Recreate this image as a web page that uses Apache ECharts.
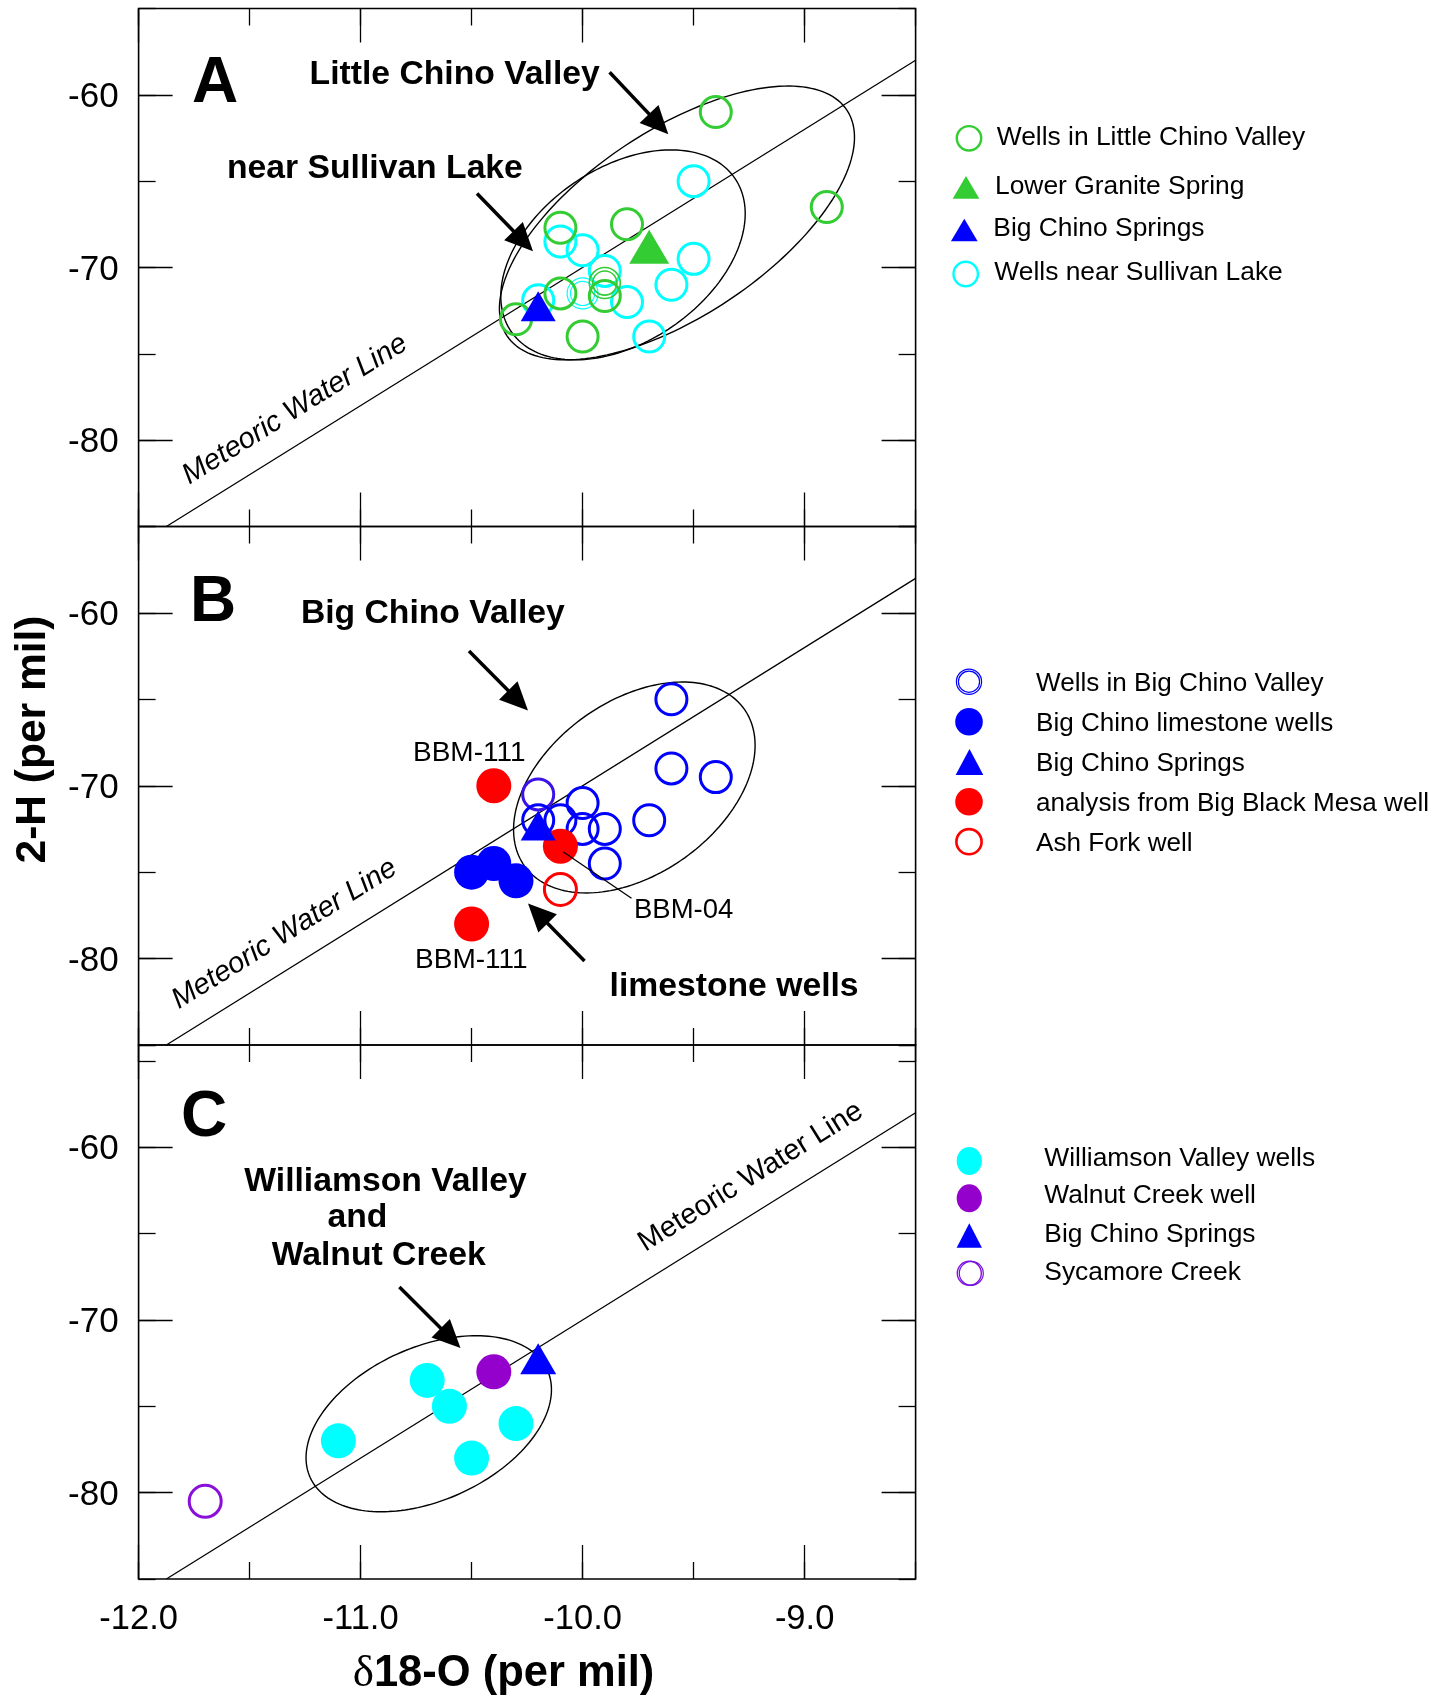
<!DOCTYPE html>
<html><head><meta charset="utf-8">
<script src="https://cdn.jsdelivr.net/npm/echarts@6/dist/echarts.min.js"></script>
<style>html,body{margin:0;padding:0;background:#fff}#c{width:1448px;height:1697px}</style>
</head><body><div id="c"></div>
<script>
// ---------------- data ----------------
const xTickLabels = [-12, -11, -10, -9];
const yTickLabels = [-80, -70, -60];
const meteoricWaterLine = [[-11.875, -85], [-8.5, -58]];

// Panel A
const wellsLittleChino = [[-9.4,-61.0],[-8.9,-66.5],[-9.8,-67.5],[-10.1,-67.7],[-10.1,-71.5],[-9.9,-70.9],[-9.9,-71.65],[-10.3,-73.0],[-10.0,-74.0]];
const wellsSullivanLake = [[-9.5,-65.0],[-10.1,-68.5],[-10.0,-69.0],[-9.5,-69.5],[-9.9,-70.2],[-9.6,-71.0],[-9.8,-72.0],[-10.0,-71.5],[-10.2,-71.9],[-9.7,-74.0]];
const lowerGraniteSpring = [[-9.7,-68.8]];
const bigChinoSpringsA = [[-10.2,-72.25]];
// Panel B
const wellsBigChino = [[-10.2,-70.5],[-10.0,-71.0],[-10.2,-72.0],[-10.1,-72.0],[-10.0,-72.5],[-9.9,-72.5],[-9.7,-72.0],[-9.9,-74.5],[-9.6,-65.0],[-9.6,-69.0],[-9.4,-69.5]];
const limestoneWells = [[-10.5,-75.0],[-10.4,-74.5],[-10.3,-75.5]];
const bigChinoSpringsB = [[-10.2,-72.3]];
const bigBlackMesa = [[-10.4,-70.0],[-10.1,-73.5],[-10.5,-78.0]];
const ashForkWell = [[-10.1,-76.0]];
// Panel C
const williamsonWells = [[-10.7,-73.5],[-10.6,-75.0],[-11.1,-77.0],[-10.3,-76.0],[-10.5,-78.0]];
const walnutCreekWell = [[-10.4,-73.0]];
const bigChinoSpringsC = [[-10.2,-72.25]];
const sycamoreCreek = [[-11.7,-80.5]];

// group ellipses (annotation outlines): centre in data units, semi-axes in px, tilt in degrees
const ellipsesA = [[-9.575,-67.42,204,93,33.6],[-9.818,-69.27,135.6,87,34.4]];
const ellipsesB = [[-9.767,-70.1,135,86.5,35.6]];
const ellipsesC = [[-10.693,-76.01,130.2,76.5,24.4]];

// ---------------- layout ----------------
const FONT = '"Liberation Sans", Arial, sans-serif';
const grids = [
  {left:138.6, top:8.5, width:777, height:518},
  {left:138.6, top:526.5, width:777, height:518.5},
  {left:138.6, top:1045, width:777, height:534}
];
const yMax = [-55, -55, -54.08];
const GREEN = '#33cc33', CYAN = '#00ffff', BLUE = '#0000ff', RED = '#ff0000', PURPLE = '#9400cc';

const tickStyle = {color:'#000', width:1.3};
function xAxes(g, labels) {
  const mk = (pos, major, lab) => ({
    type:'value', gridIndex:g, min:-12, max:-8.5, interval:0.5, position:pos,
    splitLine:{show:false}, axisLine:{show:false, onZero:false},
    axisTick: major ? {show:true, inside:true, length:34, lineStyle:tickStyle, customValues:xTickLabels}
                    : {show:true, inside:true, length:17, lineStyle:tickStyle},
    axisLabel: lab ? {show:true, customValues:xTickLabels, formatter:v => Number(v).toFixed(1), margin:23,
                      color:'#000', fontSize:34.5, fontFamily:FONT} : {show:false}
  });
  return [mk('bottom',false,false), mk('bottom',true,labels), mk('top',false,false), mk('top',true,false)];
}
function yAxes(g) {
  const mk = (pos, major, lab) => ({
    type:'value', gridIndex:g, min:-85, max:yMax[g], interval:5, position:pos,
    splitLine:{show:false}, axisLine:{show:false, onZero:false},
    axisTick: major ? {show:true, inside:true, length:34, lineStyle:tickStyle, customValues:yTickLabels}
                    : {show:true, inside:true, length:17, lineStyle:tickStyle},
    axisLabel: lab ? {show:true, customValues:yTickLabels, margin:20, verticalAlign:'top', lineHeight:5,
                      color:'#000', fontSize:35, fontFamily:FONT} : {show:false}
  });
  return [mk('left',false,false), mk('left',true,true), mk('right',false,false), mk('right',true,false)];
}

const doubleRing = 'path://M0,16A16,16 0 1,1 32,16A16,16 0 1,1 0,16ZM3.5,16A12.5,12.5 0 1,1 28.5,16A12.5,12.5 0 1,1 3.5,16Z';

function scat(g, name, data, opt) {
  return Object.assign({
    type:'scatter', name, xAxisIndex:4*g, yAxisIndex:4*g, data, silent:true,
    emphasis:{disabled:true}, animation:false, z:3
  }, opt);
}
function ring(color, size) { return {symbol:'circle', symbolSize:size||31, itemStyle:{color:'rgba(0,0,0,0)', borderColor:color, borderWidth:3, opacity:1}}; }
function dot(color, size) { return {symbol:'circle', symbolSize:size||35, itemStyle:{color:color, opacity:1}}; }
function tri(color, w, h) { return {symbol:'triangle', symbolSize:[w,h], itemStyle:{color:color, opacity:1}, z:5}; }

function ellipseSeries(g, data) {
  return {
    type:'custom', xAxisIndex:4*g, yAxisIndex:4*g, data, silent:true, animation:false, z:2,
    renderItem: (params, api) => {
      const c = api.coord([api.value(0), api.value(1)]);
      const a = api.value(2), b = api.value(3), th = api.value(4) * Math.PI / 180;
      const ux = Math.cos(th), uy = -Math.sin(th), vx = Math.sin(th), vy = Math.cos(th);
      const pts = [];
      for (let i = 0; i < 180; i++) {
        const t = i / 180 * Math.PI * 2;
        pts.push([c[0] + a*Math.cos(t)*ux + b*Math.sin(t)*vx, c[1] + a*Math.cos(t)*uy + b*Math.sin(t)*vy]);
      }
      return {type:'polygon', shape:{points:pts}, style:{fill:'none', stroke:'#000', lineWidth:1.4}};
    }
  };
}
function mwl(g) {
  return {type:'line', xAxisIndex:4*g, yAxisIndex:4*g, data:meteoricWaterLine, symbol:'none', silent:true,
          lineStyle:{color:'#000', width:1.3}, animation:false, z:1};
}

// Double-ring markers for overlapped points
const wlcData = wellsLittleChino.map((p,i) => i===5 ? {value:p, symbol:doubleRing, itemStyle:{borderWidth:1.6}} : p);
const wslData = wellsSullivanLake.map((p,i) => i===7 ? {value:p, symbol:doubleRing, itemStyle:{borderWidth:1.2}} : p);
const wbcData = wellsBigChino.map((p,i) => i===0 ? {value:p, itemStyle:{borderColor:'#3d12e6'}} : p);

const series = [
  // A
  mwl(0), ellipseSeries(0, ellipsesA),
  scat(0,'Wells near Sullivan Lake', wslData, ring(CYAN)),
  scat(0,'Wells in Little Chino Valley', wlcData, ring(GREEN)),
  scat(0,'Lower Granite Spring', lowerGraniteSpring, tri(GREEN,40,34)),
  scat(0,'Big Chino Springs', bigChinoSpringsA, tri(BLUE,35,30)),
  // B
  mwl(1), ellipseSeries(1, ellipsesB),
  scat(1,'Wells in Big Chino Valley', wbcData, ring(BLUE)),
  scat(1,'Big Chino Springs', bigChinoSpringsB, tri(BLUE,35,30)),
  scat(1,'Big Chino limestone wells', limestoneWells, dot(BLUE,35)),
  scat(1,'analysis from Big Black Mesa well', bigBlackMesa, dot(RED,35)),
  scat(1,'Ash Fork well', ashForkWell, ring(RED,32)),
  // C
  mwl(2), ellipseSeries(2, ellipsesC),
  scat(2,'Williamson Valley wells', williamsonWells, dot(CYAN,35)),
  scat(2,'Walnut Creek well', walnutCreekWell, dot(PURPLE,35)),
  scat(2,'Big Chino Springs', bigChinoSpringsC, tri(BLUE,36,31)),
  scat(2,'Sycamore Creek', sycamoreCreek, ring('#8a10d8',32))
];

// ---------------- annotations (graphic) ----------------
function T(text, x, y, font, align, rot, dyOverride) {
  const dy = dyOverride !== undefined ? dyOverride : (rot ? 0 : 2.5);
  return {type:'text', x, y: y + dy, rotation: rot||0, z:100, silent:true,
    style:{text, font, fill:'#000', align:align||'left', verticalAlign:'middle', textAlign:align||'left', textVerticalAlign:'middle'}};
}
function arrow(t, h) {
  const dx = h[0]-t[0], dy = h[1]-t[1], L = Math.hypot(dx,dy), ux = dx/L, uy = dy/L;
  const HL = 28, HW = 13;
  const bx = h[0]-ux*HL, by = h[1]-uy*HL;
  return [
    {type:'line', z:100, silent:true, shape:{x1:t[0], y1:t[1], x2:bx+ux*3, y2:by+uy*3}, style:{stroke:'#000', lineWidth:3.5}},
    {type:'polygon', z:100, silent:true, shape:{points:[[h[0],h[1]],[bx-uy*HW, by+ux*HW],[bx+uy*HW, by-ux*HW]]}, style:{fill:'#000'}}
  ];
}
function lgRing(cx, cy, r, color, lw) { return {type:'circle', z:100, silent:true, shape:{cx, cy, r}, style:{fill:'none', stroke:color, lineWidth:lw||2.4}}; }
function lgDot(cx, cy, r, color, sx) { return {type:'circle', z:100, silent:true, x:cx, y:cy, scaleX:sx||1, shape:{cx:0, cy:0, r}, style:{fill:color}}; }
function lgTri(cx, cy, w, h, color) { return {type:'polygon', z:100, silent:true, shape:{points:[[cx, cy-h/2],[cx+w/2, cy+h/2],[cx-w/2, cy+h/2]]}, style:{fill:color}}; }

const BOLD = 'bold 33.7px ' + FONT;
const LG = '26.4px ' + FONT;
const LGB = '26.1px ' + FONT;
const MWLROT = 31.9 * Math.PI / 180;
const LGDY = 1.5;
const elements = [
  // panel letters
  T('A', 192, 81.5, 'bold 64px ' + FONT),
  T('B', 190, 600.5, 'bold 64px ' + FONT),
  T('C', 181, 1115.5, 'bold 64px ' + FONT),
  // labels
  T('Little Chino Valley', 309.6, 72, BOLD),
  T('near Sullivan Lake', 227, 166.5, BOLD),
  T('Big Chino Valley', 300.9, 611, BOLD),
  T('BBM-111', 469.3, 751, '28px ' + FONT, 'center'),
  T('BBM-111', 471.4, 957.5, '28px ' + FONT, 'center'),
  T('BBM-04', 634, 908.3, '27.5px ' + FONT),
  T('limestone wells', 609.6, 984.3, BOLD),
  T('Williamson Valley', 385.5, 1179, BOLD, 'center'),
  T('and', 357.5, 1215.3, BOLD, 'center'),
  T('Walnut Creek', 378.7, 1253.5, BOLD, 'center'),
  // MWL labels
  T('Meteoric Water Line', 295, 409.5, 'italic 29px ' + FONT, 'center', MWLROT),
  T('Meteoric Water Line', 284.5, 934, 'italic 29px ' + FONT, 'center', MWLROT),
  T('Meteoric Water Line', 750.7, 1177, '29px ' + FONT, 'center', MWLROT),
  // leader line BBM-04
  {type:'line', z:100, silent:true, shape:{x1:563, y1:851.7, x2:631.5, y2:898.3}, style:{stroke:'#000', lineWidth:1.3}},
  // axis titles
  T('2-H (per mil)', 33.5, 739.5, 'bold 42.5px ' + FONT, 'center', Math.PI/2),
  {type:'text', x:503.5, y:1674, z:100, silent:true, style:{text:'{d|δ}{b|18-O (per mil)}', align:'center', verticalAlign:'middle', textAlign:'center', textVerticalAlign:'middle',
    rich:{d:{font:'45px "Liberation Serif", serif', fill:'#000'}, b:{font:'bold 43.5px ' + FONT, fill:'#000'}}}},
  // legend A
  lgRing(969, 138.3, 12.2, GREEN), T('Wells in Little Chino Valley', 996.7, 136, LG, null, 0, LGDY),
  lgTri(966, 187.3, 26.7, 22.7, GREEN), T('Lower Granite Spring', 995, 184.8, LG, null, 0, LGDY),
  lgTri(964.3, 230, 26.7, 22.7, BLUE), T('Big Chino Springs', 993.3, 227.3, LG, null, 0, LGDY),
  lgRing(965.7, 274, 12.2, CYAN), T('Wells near Sullivan Lake', 994.3, 271.6, LG, null, 0, LGDY),
  // legend B
  lgRing(969, 681.7, 12.6, BLUE, 1.2), lgRing(969, 681.7, 10.6, BLUE, 1.2), T('Wells in Big Chino Valley', 1036, 681.8, LGB, null, 0, LGDY),
  lgDot(969, 721.7, 13.8, BLUE), T('Big Chino limestone wells', 1036, 721.8, LGB, null, 0, LGDY),
  lgTri(969.5, 762, 27.7, 26, BLUE), T('Big Chino Springs', 1036, 761.9, LGB, null, 0, LGDY),
  lgDot(969, 801.7, 13.8, RED), T('analysis from Big Black Mesa well', 1036, 801.9, LGB, null, 0, LGDY),
  lgRing(969, 841.7, 12.6, RED, 2.6), T('Ash Fork well', 1036, 842.5, LGB, null, 0, LGDY),
  // legend C
  lgDot(969.3, 1161, 14, CYAN, 0.9), T('Williamson Valley wells', 1044.3, 1157, LG, null, 0, LGDY),
  lgDot(969.3, 1198.3, 14, PURPLE, 0.9), T('Walnut Creek well', 1044.3, 1194.7, LG, null, 0, LGDY),
  lgTri(969.3, 1235.5, 25.3, 24.3, BLUE), T('Big Chino Springs', 1044.3, 1233.7, LG, null, 0, LGDY),
  lgRing(969.3, 1273.3, 12, '#8a10d8', 1.4), lgRing(971.3, 1273.3, 12, '#6a10e8', 1.2), T('Sycamore Creek', 1044.3, 1271.6, LG, null, 0, LGDY)
].concat(
  arrow([609.6,72.3],[668.3,134.3]),
  arrow([477,193.5],[533,251.2]),
  arrow([469,651],[528,710.4]),
  arrow([584.5,961],[528,903.5]),
  arrow([399.4,1287],[460.5,1348])
);

const option = {
  backgroundColor:'#fff',
  animation:false,
  grid: grids.map(g => Object.assign({show:true, borderColor:'#000', borderWidth:1.6, backgroundColor:'rgba(0,0,0,0)', containLabel:false}, g)),
  xAxis: [].concat(xAxes(0,false), xAxes(1,false), xAxes(2,true)),
  yAxis: [].concat(yAxes(0), yAxes(1), yAxes(2)),
  series,
  graphic: {elements}
};
const chart = echarts.init(document.getElementById('c'), null, {renderer:'canvas', width:1448, height:1697});
chart.setOption(option);
</script>
</body></html>
